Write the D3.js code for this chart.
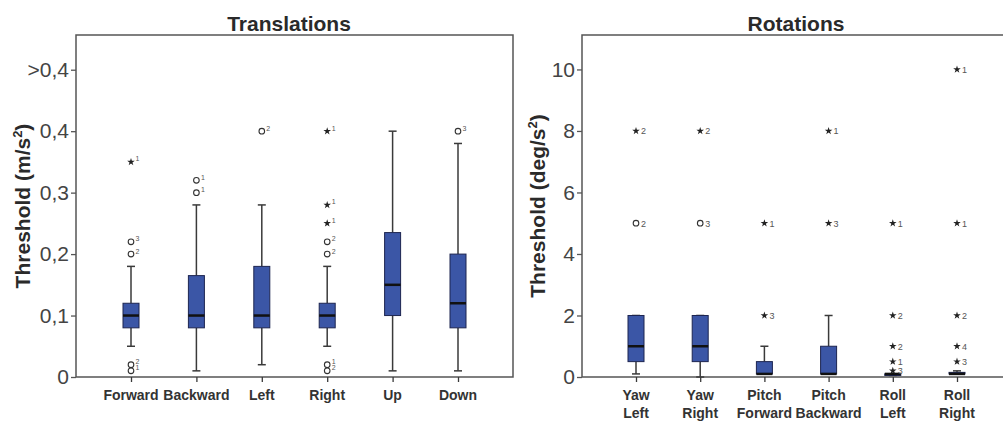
<!DOCTYPE html>
<html>
<head>
<meta charset="utf-8">
<script src="https://cdn.jsdelivr.net/npm/d3@7"></script>
<style>
  html, body { margin: 0; padding: 0; background: #fff; }
  svg { display: block; font-family: "Liberation Sans", Arial, sans-serif; }
</style>
</head>
<body>
<svg id="chart" width="1003" height="422"></svg>
<script>
// ---------- Translations data ----------
const transCats = ["Forward", "Backward", "Left", "Right", "Up", "Down"];
const transMin = [0.05, 0.01, 0.02, 0.05, 0.01, 0.01];
const transQ1  = [0.08, 0.08, 0.08, 0.08, 0.10, 0.08];
const transMed = [0.10, 0.10, 0.10, 0.10, 0.15, 0.12];
const transQ3  = [0.12, 0.165, 0.18, 0.12, 0.235, 0.20];
const transMax = [0.18, 0.28, 0.28, 0.18, 0.40, 0.38];
const transOutliers = [
  { cat: "Forward", v: 0.35, type: "star", label: "1" },
  { cat: "Forward", v: 0.22, type: "circle", label: "3" },
  { cat: "Forward", v: 0.20, type: "circle", label: "2" },
  { cat: "Forward", v: 0.02, type: "circle", label: "2" },
  { cat: "Forward", v: 0.01, type: "circle", label: "1" },
  { cat: "Backward", v: 0.32, type: "circle", label: "1" },
  { cat: "Backward", v: 0.30, type: "circle", label: "1" },
  { cat: "Left", v: 0.40, type: "circle", label: "2" },
  { cat: "Right", v: 0.40, type: "star", label: "1" },
  { cat: "Right", v: 0.28, type: "star", label: "1" },
  { cat: "Right", v: 0.25, type: "star", label: "1" },
  { cat: "Right", v: 0.22, type: "circle", label: "2" },
  { cat: "Right", v: 0.20, type: "circle", label: "2" },
  { cat: "Right", v: 0.02, type: "circle", label: "1" },
  { cat: "Right", v: 0.01, type: "circle", label: "2" },
  { cat: "Down", v: 0.40, type: "circle", label: "3" }
];
const transTickValues = [0, 0.1, 0.2, 0.3, 0.4, 0.5];
const transTickLabels = ["0", "0,1", "0,2", "0,3", "0,4", ">0,4"];

// ---------- Rotations data ----------
const rotCats = ["Yaw Left", "Yaw Right", "Pitch Forward", "Pitch Backward", "Roll Left", "Roll Right"];
const rotMin = [0.1, 0.0, 0.1, 0.1, 0.05, 0.1];
const rotQ1  = [0.5, 0.5, 0.1, 0.1, 0.05, 0.1];
const rotMed = [1.0, 1.0, 0.1, 0.1, 0.1, 0.1];
const rotQ3  = [2.0, 2.0, 0.5, 1.0, 0.1, 0.15];
const rotMax = [2.0, 2.0, 1.0, 2.0, 0.1, 0.2];
const rotOutliers = [
  { cat: "Yaw Left", v: 8, type: "star", label: "2" },
  { cat: "Yaw Left", v: 5, type: "circle", label: "2" },
  { cat: "Yaw Right", v: 8, type: "star", label: "2" },
  { cat: "Yaw Right", v: 5, type: "circle", label: "3" },
  { cat: "Pitch Forward", v: 5, type: "star", label: "1" },
  { cat: "Pitch Forward", v: 2, type: "star", label: "3" },
  { cat: "Pitch Backward", v: 8, type: "star", label: "1" },
  { cat: "Pitch Backward", v: 5, type: "star", label: "3" },
  { cat: "Roll Left", v: 5, type: "star", label: "1" },
  { cat: "Roll Left", v: 2, type: "star", label: "2" },
  { cat: "Roll Left", v: 1, type: "star", label: "2" },
  { cat: "Roll Left", v: 0.5, type: "star", label: "1" },
  { cat: "Roll Left", v: 0.2, type: "star", label: "3" },
  { cat: "Roll Right", v: 10, type: "star", label: "1" },
  { cat: "Roll Right", v: 5, type: "star", label: "1" },
  { cat: "Roll Right", v: 2, type: "star", label: "2" },
  { cat: "Roll Right", v: 1, type: "star", label: "4" },
  { cat: "Roll Right", v: 0.5, type: "star", label: "3" }
];
const rotTickValues = [0, 2, 4, 6, 8, 10];
const rotTickLabels = ["0", "2", "4", "6", "8", "10"];

// ---------- drawing ----------
const svg = d3.select("#chart");
const BOX_FILL = "#3b56a6";
const BOX_STROKE = "#1d2550";
const LINE = "#3a3a3a";
const FRAME = "#555";

function panel(cfg) {
  const g = svg.append("g");
  const x = d3.scalePoint().domain(cfg.cats).range(cfg.xRange);
  const y = d3.scaleLinear().domain(cfg.yDomain).range([cfg.bottom, cfg.top]);

  // frame
  g.append("rect")
    .attr("x", cfg.left).attr("y", cfg.top)
    .attr("width", cfg.right - cfg.left).attr("height", cfg.bottom - cfg.top)
    .attr("fill", "none").attr("stroke", FRAME).attr("stroke-width", 1.5);

  // y axis
  const yAxis = d3.axisLeft(y).tickValues(cfg.tickValues)
    .tickFormat((d, i) => cfg.tickLabels[i]).tickSize(5).tickPadding(2);
  const ya = g.append("g").attr("transform", `translate(${cfg.left},0)`).call(yAxis);
  ya.select(".domain").remove();
  ya.selectAll("line").attr("stroke", FRAME).attr("stroke-width", 1.3);
  ya.selectAll("text").attr("font-size", 21).attr("fill", "#444")
    .attr("font-family", "Liberation Sans, Arial, sans-serif");

  // x axis ticks
  const xAxis = d3.axisBottom(x).tickSize(5).tickFormat("");
  const xa = g.append("g").attr("transform", `translate(0,${cfg.bottom})`).call(xAxis);
  xa.select(".domain").remove();
  xa.selectAll("line").attr("stroke", LINE).attr("stroke-width", 1.3);

  // x labels
  cfg.cats.forEach(c => {
    const lines = cfg.splitLabels ? c.split(" ") : [c];
    const t = g.append("text")
      .attr("x", x(c)).attr("y", cfg.bottom + 23)
      .attr("text-anchor", "middle").attr("font-size", 14)
      .attr("font-weight", "bold").attr("fill", "#333");
    lines.forEach((ln, i) => {
      t.append("tspan").attr("x", x(c)).attr("dy", i === 0 ? 0 : 18).text(ln);
    });
  });

  // boxes
  const bw = 16, cap = 8;
  cfg.cats.forEach((c, i) => {
    const cx = x(c);
    if (cfg.max[i] > cfg.q3[i]) {
      g.append("line").attr("x1", cx).attr("x2", cx)
        .attr("y1", y(cfg.q3[i])).attr("y2", y(cfg.max[i]))
        .attr("stroke", LINE).attr("stroke-width", 1.5);
    }
    g.append("line").attr("x1", cx - cap / 2).attr("x2", cx + cap / 2)
      .attr("y1", y(cfg.max[i])).attr("y2", y(cfg.max[i]))
      .attr("stroke", LINE).attr("stroke-width", 1.5);
    if (cfg.min[i] < cfg.q1[i]) {
      g.append("line").attr("x1", cx).attr("x2", cx)
        .attr("y1", y(cfg.q1[i])).attr("y2", y(cfg.min[i]))
        .attr("stroke", LINE).attr("stroke-width", 1.5);
    }
    g.append("line").attr("x1", cx - cap / 2).attr("x2", cx + cap / 2)
      .attr("y1", y(cfg.min[i])).attr("y2", y(cfg.min[i]))
      .attr("stroke", LINE).attr("stroke-width", 1.5);
    const top = y(cfg.q3[i]), bot = y(cfg.q1[i]);
    g.append("rect").attr("x", cx - bw / 2).attr("y", top)
      .attr("width", bw).attr("height", Math.max(bot - top, 1.5))
      .attr("fill", BOX_FILL).attr("stroke", BOX_STROKE).attr("stroke-width", 1);
    g.append("line").attr("x1", cx - bw / 2).attr("x2", cx + bw / 2)
      .attr("y1", y(cfg.med[i])).attr("y2", y(cfg.med[i]))
      .attr("stroke", "#111").attr("stroke-width", 2.5);
  });

  // outliers
  const star = d3.symbol().type(d3.symbolStar).size(18);
  cfg.outliers.forEach(o => {
    const cx = x(o.cat), cy = y(o.v);
    if (o.type === "star") {
      g.append("path").attr("d", star).attr("transform", `translate(${cx},${cy})`)
        .attr("fill", "#222");
    } else {
      g.append("circle").attr("cx", cx).attr("cy", cy).attr("r", 2.8)
        .attr("fill", "#fff").attr("stroke", "#333").attr("stroke-width", 1.1);
    }
    g.append("text").attr("x", cx + cfg.labelDx).attr("y", cy + cfg.labelDy)
      .attr("font-size", cfg.labelSize).attr("fill", "#555").text(o.label);
  });

  // title
  g.append("text").attr("x", cfg.titleX).attr("y", 31)
    .attr("text-anchor", "middle").attr("font-size", 21).attr("font-weight", "bold")
    .attr("fill", "#2a2a2a").text(cfg.title);

  // y title
  const yt = g.append("text")
    .attr("transform", `translate(${cfg.yTitleX},${(cfg.top + cfg.bottom) / 2}) rotate(-90)`)
    .attr("text-anchor", "middle").attr("font-size", 21).attr("font-weight", "bold")
    .attr("fill", "#2a2a2a");
  yt.append("tspan").text(cfg.yTitle);
  yt.append("tspan").attr("font-size", 13).attr("dy", -8).text("2");
  yt.append("tspan").attr("dy", 8).text(")");
}

panel({
  cats: transCats, min: transMin, q1: transQ1, med: transMed, q3: transQ3, max: transMax,
  outliers: transOutliers, tickValues: transTickValues, tickLabels: transTickLabels,
  left: 76, right: 513, top: 35, bottom: 377,
  xRange: [131, 458], yDomain: [0, 0.5565],
  title: "Translations", titleX: 289, yTitle: "Threshold (m/s", yTitleX: 30,
  labelDx: 4.5, labelDy: -0.5, labelSize: 7, splitLabels: false
});

panel({
  cats: rotCats, min: rotMin, q1: rotQ1, med: rotMed, q3: rotQ3, max: rotMax,
  outliers: rotOutliers, tickValues: rotTickValues, tickLabels: rotTickLabels,
  left: 582, right: 1010, top: 35, bottom: 377,
  xRange: [636, 957], yDomain: [0, 11.12],
  title: "Rotations", titleX: 796, yTitle: "Threshold (deg/s", yTitleX: 545,
  labelDx: 5, labelDy: 3.5, labelSize: 9, splitLabels: true
});
</script>
</body>
</html>
